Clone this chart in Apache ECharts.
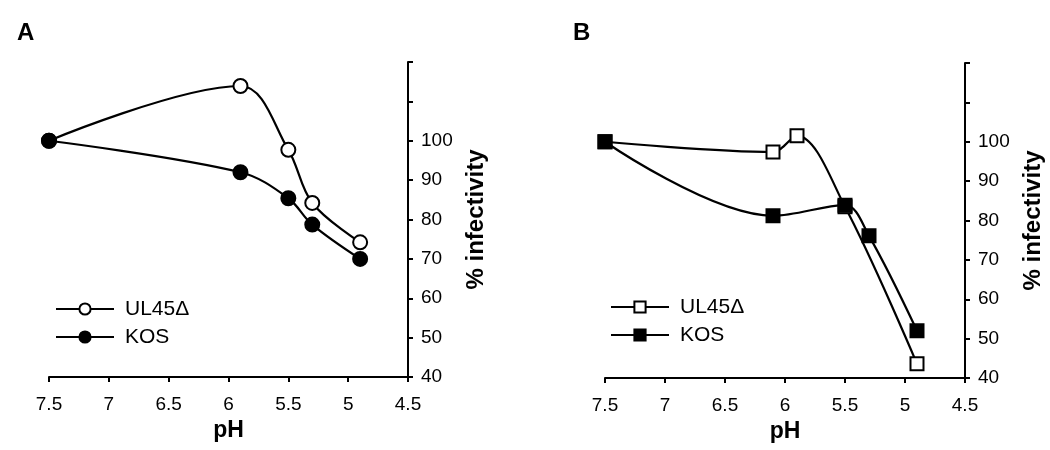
<!DOCTYPE html>
<html><head><meta charset="utf-8">
<script src="https://cdn.jsdelivr.net/npm/echarts@6/dist/echarts.min.js"></script>
<style>html,body{margin:0;padding:0;background:#fff}#c{width:1050px;height:450px}</style>
</head><body><div id="c"></div>
<script>
// Panel A
const phA_UL45 = [7.5, 5.9, 5.5, 5.3, 4.9];
const valA_UL45 = [100, 113.9, 97.7, 84.2, 74.2];
const phA_KOS = [7.5, 5.9, 5.5, 5.3, 4.9];
const valA_KOS = [100, 92, 85.4, 78.7, 70];
// Panel B
const phB_UL45 = [7.5, 6.1, 5.9, 5.5, 4.9];
const valB_UL45 = [100, 97.4, 101.5, 83.5, 43.6];
const phB_KOS = [7.5, 6.1, 5.5, 5.3, 4.9];
const valB_KOS = [100, 81.2, 83.9, 76.1, 52];
const yTickLabels = ['40','50','60','70','80','90','100'];
const seriesNames = ['UL45\u0394', 'KOS'];

const zip = (a, b) => a.map((x, i) => [x, b[i]]);
const FONT = 'Liberation Sans, Arial, sans-serif';

function xAx(gi){
  return {gridIndex: gi, type:'value', min:4.5, max:7.5, interval:0.5, inverse:true,
    name:'pH', nameLocation:'middle', nameGap:41,
    nameTextStyle:{fontFamily:FONT, fontSize:23, fontWeight:'bold', color:'#000'},
    axisLine:{onZero:false, lineStyle:{color:'#000', width:2}},
    axisTick:{show:true, length:5, lineStyle:{color:'#000', width:2}},
    axisLabel:{fontFamily:FONT, fontSize:19, color:'#000', margin:18},
    splitLine:{show:false}};
}
function yAx(gi){
  return {gridIndex: gi, type:'value', min:40, max:120, interval:10, position:'right',
    name:'% infectivity', nameLocation:'middle', nameGap:56, nameRotate:90,
    nameTextStyle:{fontFamily:FONT, fontSize:24, fontWeight:'bold', color:'#000'},
    axisLine:{show:true, lineStyle:{color:'#000', width:2}},
    axisTick:{show:true, length:5, lineStyle:{color:'#000', width:2}},
    axisLabel:{fontFamily:FONT, fontSize:19, color:'#000', margin:13,
      formatter: v => yTickLabels.indexOf(String(v)) >= 0 ? String(v) : ''},
    splitLine:{show:false}};
}
function ser(name, data, gi, symbol, filled){
  return {name: name + (gi ? ' ' : ''), type:'line', xAxisIndex:gi, yAxisIndex:gi, data, smooth:0.35,
    symbol, symbolSize: symbol === 'rect' ? 13 : 14, showAllSymbol:true,
    lineStyle:{color:'#000', width:2.2},
    itemStyle:{color: filled ? '#000' : '#fff', borderColor:'#000', borderWidth:2},
    emphasis:{disabled:true}, z: filled ? 3 : 2};
}
function leg(gi, left, top){
  return {data: seriesNames.map(n => ({name: n + (gi ? ' ' : '')})), orient:'vertical', left, top,
    itemWidth:58, itemHeight:14, itemGap:6, selectedMode:false,
    formatter: n => n.trim(),
    textStyle:{fontFamily:FONT, fontSize:21, lineHeight:22, color:'#000', padding:[0,0,0,6]}};
}
const chart = echarts.init(document.getElementById('c'), null, {renderer:'canvas'});
chart.setOption({
  animation:false,
  backgroundColor:'#fff',
  title:[
    {text:'A', left:12, top:16, textStyle:{fontFamily:FONT, fontSize:24, fontWeight:'bold', color:'#000'}},
    {text:'B', left:568, top:16, textStyle:{fontFamily:FONT, fontSize:24, fontWeight:'bold', color:'#000'}}
  ],
  grid:[
    {left:49, top:62, width:359, height:315, outerBoundsMode:'none', containLabel:false},
    {left:605, top:63, width:360, height:315, outerBoundsMode:'none', containLabel:false}
  ],
  xAxis:[xAx(0), xAx(1)],
  yAxis:[yAx(0), yAx(1)],
  legend:[leg(0, 50, 293), leg(1, 605, 291)],
  series:[
    ser(seriesNames[0], zip(phA_UL45, valA_UL45), 0, 'circle', false),
    ser(seriesNames[1], zip(phA_KOS, valA_KOS), 0, 'circle', true),
    ser(seriesNames[0], zip(phB_UL45, valB_UL45), 1, 'rect', false),
    ser(seriesNames[1], zip(phB_KOS, valB_KOS), 1, 'rect', true)
  ]
});
</script></body></html>
